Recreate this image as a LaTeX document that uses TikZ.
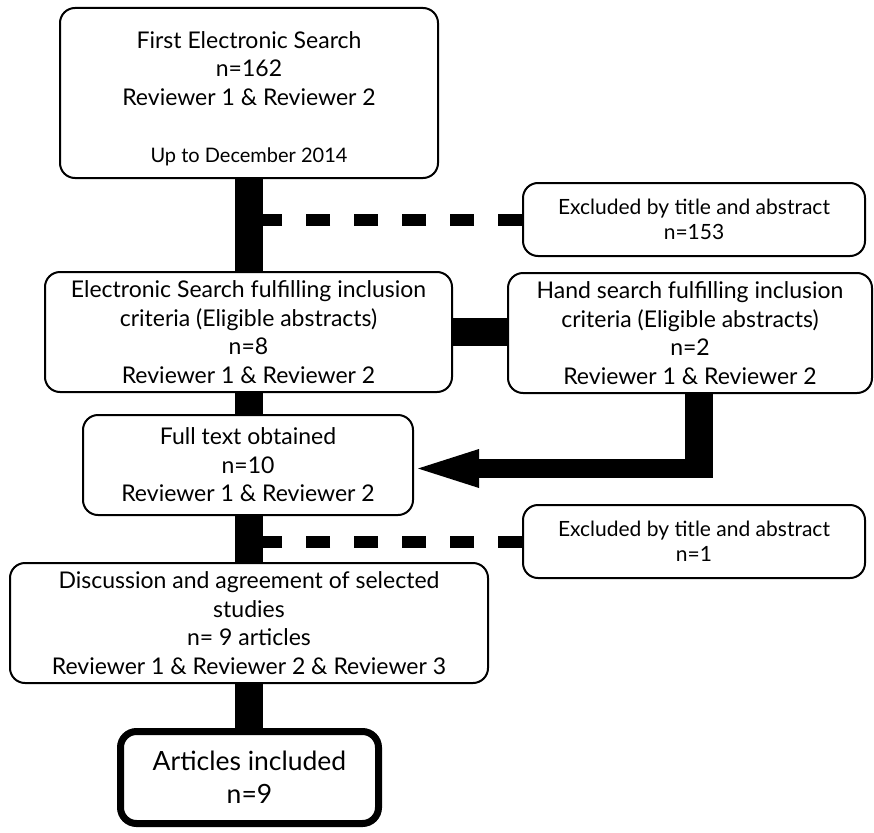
\documentclass[tikz,border=0pt]{standalone}
\usepackage{fontspec}
\setmainfont{Lato}
\usetikzlibrary{calc}
\begin{document}
\begin{tikzpicture}[x=1pt,y=-1pt,
  box/.style={draw, line width=2pt, rounded corners=15pt, inner sep=0pt, align=center,
    font=\fontsize{23}{28.5}\selectfont},
  exclbox/.style={box, font=\fontsize{21}{24.5}\selectfont},
  finalbox/.style={box, line width=7pt, rounded corners=16pt, font=\fontsize{26.5}{33}\selectfont},
  bar/.style={line width=28pt, line cap=butt},
  dashline/.style={line width=12pt, line cap=butt, dash pattern=on 24pt off 24pt}]
\useasboundingbox (0,0) rectangle (874,832);

\node[box, minimum width=378pt, minimum height=170pt] (first) at (249,93)
  {\rule{0pt}{27.8pt}First Electronic Search\\ n=162\\ Reviewer 1 \& Reviewer 2\\[28.5pt]
   {\fontsize{20}{22}\selectfont Up to December 2014}};
\node[exclbox, minimum width=342pt, minimum height=73pt] (excl1) at (694,219.5)
  {Excluded by title and abstract\\ n=153};
\node[box, minimum width=407pt, minimum height=120pt] (elec) at (248.5,332)
  {Electronic Search fulfilling inclusion\\ criteria (Eligible abstracts)\\ n=8\\ Reviewer 1 \& Reviewer 2};
\node[box, minimum width=364pt, minimum height=120pt] (hand) at (690,333)
  {Hand search fulfilling inclusion\\ criteria (Eligible abstracts)\\ n=2\\ Reviewer 1 \& Reviewer 2};
\node[box, minimum width=330pt, minimum height=100pt] (full) at (248,465)
  {Full text obtained\\ n=10\\ Reviewer 1 \& Reviewer 2};
\node[exclbox, minimum width=342pt, minimum height=73pt] (excl2) at (694,541.5)
  {Excluded by title and abstract\\ n=1};
\node[box, minimum width=478pt, minimum height=120pt] (disc) at (249,623)
  {Discussion and agreement of selected\\ studies\\ n= 9 articles\\ Reviewer 1 \& Reviewer 2 \& Reviewer 3};
\node[finalbox, minimum width=258pt, minimum height=92pt] (final) at (249.5,777.5)
  {Articles included\\ n=9};

% vertical trunk
\draw[bar] (first.south) -- (first.south |- elec.north);
\draw[bar] (elec.south -| first.south) -- (first.south |- full.north);
\draw[bar] (full.south -| first.south) -- (first.south |- disc.north);
\draw[bar] (disc.south -| first.south) -- (first.south |- final.north);

% dashed exclusions
\draw[dashline] (excl1.west) -- (excl1.west -| first.south);
\draw[dashline] (excl2.west) -- (excl2.west -| first.south);

% electronic <-> hand
\draw[bar] (elec.east) -- (elec.east -| hand.west);

% elbow arrow from hand search to full text
\coordinate (turn) at ($(hand.south)+(9,74.5)$);
\coordinate (tip) at ($(full.east |- turn)+(4,0)$);
\fill ($(hand.south -| turn)+(-14,0)$) rectangle ($(turn)+(14,9.5)$);
\fill ($(tip)+(60,-9.5)$) rectangle ($(turn)+(14,9.5)$);
\fill (tip) -- ++(61,-19.5) -- ++(0,39) -- cycle;
\end{tikzpicture}
\end{document}
